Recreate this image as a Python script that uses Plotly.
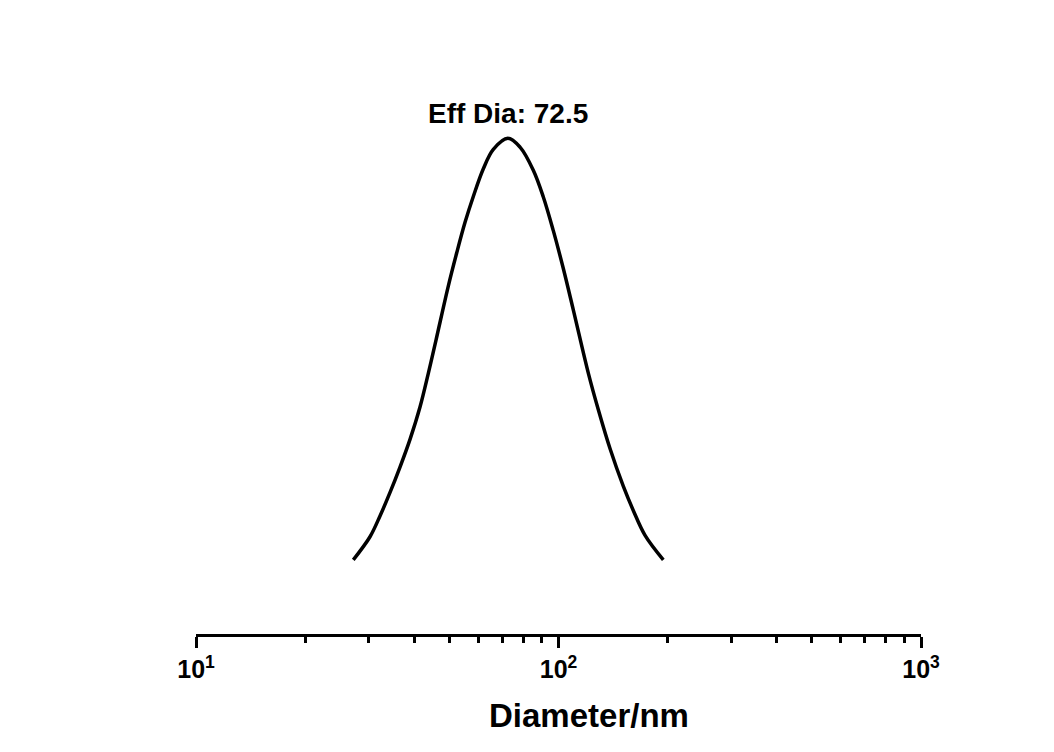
import plotly.graph_objects as go
import math

diameter = [27.16, 30.2, 32.18, 34.30, 36.54, 38.94, 41.49, 43.74, 45.93, 49.66,
            52.39, 55.23, 58.21, 62.04, 66.10, 72.5, 78.31, 85.21, 90.81, 96.76, 103.1,
            109.9, 120.9, 128.8, 138.7, 151.0, 160.8, 173.3, 194.6]
intensity = [8.7, 13.7, 18.2, 23.3, 28.8, 34.8, 41.8, 49.1, 56.3, 68.0,
             75.2, 81.8, 87.4, 93.4, 97.6, 100.0, 98.1, 93.1, 87.3, 80.0, 71.8,
             62.8, 49.1, 41.2, 32.8, 24.6, 19.4, 14.0, 8.7]

major_ticks = [10, 100, 1000]
major_labels = ["<b>10<sup>1</sup></b>", "<b>10<sup>2</sup></b>", "<b>10<sup>3</sup></b>"]
minor_ticks = [20, 30, 40, 50, 60, 70, 80, 90, 200, 300, 400, 500, 600, 700, 800, 900]
eff_dia = 72.5
x_title = "Diameter/nm"

FONT = "Liberation Sans, Arial, sans-serif"

fig = go.Figure()
fig.add_trace(go.Scatter(x=diameter, y=intensity, mode="lines",
                         line=dict(color="black", width=3.5, shape="spline", smoothing=1.0),
                         showlegend=False, hoverinfo="x+y"))

fig.add_annotation(x=math.log10(eff_dia), y=105.3, xref="x", yref="y",
                   text="<b>Eff Dia: %.1f</b>" % eff_dia, showarrow=False,
                   font=dict(family=FONT, size=28, color="black"),
                   yanchor="middle", xanchor="center")

fig.add_annotation(x=(589 - 196) / (921 - 196), y=-0.1364, xref="x domain", yref="paper",
                   text="<b>" + x_title + "</b>", showarrow=False,
                   font=dict(family=FONT, size=33, color="black"),
                   yanchor="middle", xanchor="center")

fig.update_layout(
    width=1054, height=752,
    margin=dict(l=196, r=133, t=40, b=118),
    paper_bgcolor="white", plot_bgcolor="white",
    font=dict(family=FONT, color="black"),
    xaxis=dict(type="log", range=[1, 3], showgrid=False, zeroline=False,
               showline=True, linecolor="black", linewidth=3,
               ticks="outside", ticklen=11, tickwidth=3, tickcolor="black",
               tickvals=major_ticks, ticktext=major_labels,
               tickfont=dict(size=25, color="black"),
               minor=dict(tickvals=minor_ticks, ticks="outside", ticklen=6,
                          tickwidth=2.5, tickcolor="black", showgrid=False)),
    yaxis=dict(range=[-7.36, 121.29], visible=False, showgrid=False, zeroline=False),
)

fig.write_html("out.html")
